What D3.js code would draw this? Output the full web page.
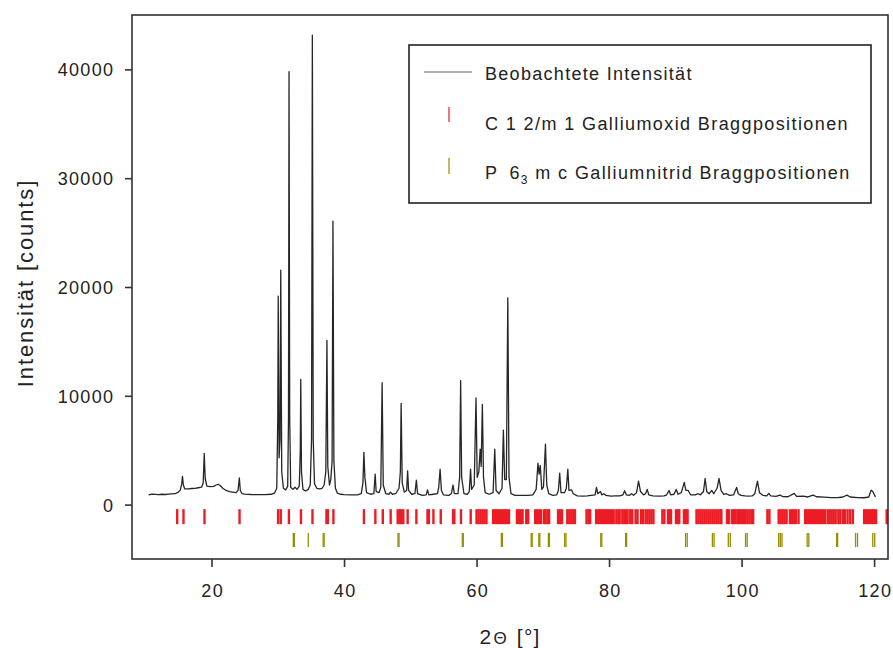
<!DOCTYPE html>
<html>
<head>
<meta charset="utf-8">
<script src="https://cdn.jsdelivr.net/npm/d3@7"></script>
<style>
  body { margin: 0; background: #fff; }
  svg text { font-family: "Liberation Sans", Arial, Helvetica, sans-serif; fill: #222; }
</style>
</head>
<body>
<svg id="chart" width="893" height="648"></svg>
<script>
// Observed powder pattern: [2θ in degrees, intensity in counts]
const observed = [
  [10.5, 900], [11.0, 960], [11.5, 940], [12.0, 920], [12.5, 950], [13.0, 930], [13.5, 960],
  [14.0, 980], [14.5, 1000], [15.0, 1150], [15.3, 1350], [15.5, 1900], [15.62, 2600], [15.75, 1800],
  [15.95, 1450], [16.5, 1450], [17.0, 1480], [17.5, 1500], [18.0, 1550], [18.5, 1600], [18.75, 2000],
  [18.9, 4700], [19.05, 2400], [19.3, 1700], [19.8, 1650], [20.3, 1680], [20.7, 1800], [21.0, 1870],
  [21.3, 1750], [21.7, 1500], [22.2, 1300], [22.7, 1200], [23.2, 1150], [23.7, 1100], [24.0, 1300],
  [24.2, 2450], [24.35, 1300], [24.6, 1000], [25.0, 960], [26.0, 930], [27.0, 920], [28.0, 920],
  [29.0, 950], [29.5, 1050], [29.85, 1500], [30.0, 8000], [30.07, 19150], [30.2, 4300], [30.35, 6000],
  [30.45, 21550], [30.6, 3000], [30.85, 1500], [31.2, 1350], [31.5, 1700], [31.62, 8000], [31.7, 39800],
  [31.8, 8000], [31.95, 1600], [32.3, 1400], [32.6, 1600], [32.9, 1400], [33.25, 1700], [33.4, 5000],
  [33.47, 11500], [33.58, 3000], [33.8, 1400], [34.2, 1250], [34.6, 1400], [34.9, 1800], [35.1, 6000],
  [35.22, 43150], [35.35, 6000], [35.55, 1900], [35.9, 1500], [36.3, 1450], [36.7, 1500], [37.0, 1800],
  [37.25, 3000], [37.42, 15100], [37.55, 3500], [37.8, 1800], [38.0, 2300], [38.2, 4000], [38.33, 26050],
  [38.47, 4000], [38.7, 1500], [39.0, 1050], [39.5, 950], [40.0, 920], [41.0, 900], [42.0, 900],
  [42.6, 1000], [42.85, 2000], [43.0, 4800], [43.15, 2500], [43.4, 1100], [44.0, 950], [44.5, 1000],
  [44.7, 2800], [44.85, 1200], [45.3, 1100], [45.55, 1600], [45.75, 11200], [45.92, 1800], [46.3, 1000],
  [46.8, 950], [47.0, 1150], [47.3, 950], [47.8, 1000], [48.3, 1500], [48.5, 3000], [48.62, 9300],
  [48.78, 2000], [49.1, 1150], [49.45, 1300], [49.6, 3100], [49.75, 1300], [50.2, 950], [50.7, 1000],
  [50.92, 2250], [51.1, 1000], [51.8, 850], [52.4, 900], [52.6, 1350], [52.8, 900], [53.5, 950],
  [54.1, 1000], [54.3, 1600], [54.5, 3250], [54.7, 1300], [55.0, 900], [55.8, 850], [56.2, 1000],
  [56.45, 1800], [56.65, 1000], [57.2, 1000], [57.45, 2500], [57.6, 11400], [57.75, 2500], [58.1, 1000],
  [58.6, 950], [58.9, 1200], [59.1, 3250], [59.25, 1400], [59.65, 1800], [59.92, 9800], [60.1, 2500],
  [60.35, 3000], [60.55, 5100], [60.7, 3500], [60.88, 9200], [61.05, 2500], [61.3, 1100], [61.9, 950],
  [62.5, 1100], [62.75, 5100], [62.95, 1300], [63.4, 1000], [63.85, 1500], [64.05, 6850], [64.25, 2300],
  [64.5, 2300], [64.72, 19000], [64.9, 2500], [65.2, 1000], [65.8, 850], [66.5, 850], [67.2, 850],
  [67.8, 850], [68.5, 900], [69.0, 1400], [69.27, 3800], [69.45, 2800], [69.62, 3600], [69.85, 1400],
  [70.1, 1600], [70.4, 5550], [70.6, 1800], [70.9, 1000], [71.5, 850], [72.1, 900], [72.35, 1300],
  [72.55, 2900], [72.75, 1100], [73.3, 1100], [73.55, 1500], [73.78, 3250], [73.95, 1300], [74.35, 1350],
  [74.6, 1000], [75.2, 800], [76.0, 780], [76.7, 800], [77.3, 850], [77.9, 900], [78.1, 1580],
  [78.3, 1000], [78.7, 1200], [78.9, 900], [79.2, 1000], [79.5, 850], [80.3, 780], [81.0, 800],
  [81.6, 800], [82.1, 900], [82.35, 1270], [82.6, 900], [83.1, 850], [83.4, 1000], [83.7, 850],
  [84.15, 1100], [84.45, 2160], [84.75, 1200], [85.2, 900], [85.5, 1000], [85.75, 1400], [86.0, 900],
  [86.6, 800], [87.5, 780], [88.3, 800], [88.7, 900], [89.05, 1300], [89.3, 900], [89.8, 950],
  [90.15, 1400], [90.4, 950], [90.9, 1100], [91.35, 2040], [91.6, 1300], [91.95, 1300], [92.3, 900],
  [93.0, 900], [93.45, 1000], [93.8, 900], [94.25, 1200], [94.5, 2400], [94.75, 1200], [95.1, 1000],
  [95.5, 1300], [95.8, 1000], [96.3, 1500], [96.6, 2400], [96.9, 1300], [97.3, 950], [97.7, 1000],
  [98.2, 850], [98.8, 900], [99.25, 1580], [99.5, 1000], [99.9, 850], [100.5, 800], [101.0, 780],
  [101.6, 800], [102.0, 1000], [102.4, 2160], [102.7, 1100], [103.2, 850], [103.8, 800], [104.1, 1030],
  [104.4, 800], [105.2, 750], [105.8, 870], [106.2, 740], [107.0, 720], [107.95, 1030], [108.3, 750],
  [109.3, 770], [110.0, 700], [110.8, 870], [111.3, 720], [112.5, 680], [113.5, 650], [114.5, 640],
  [115.3, 700], [115.9, 870], [116.4, 700], [117.5, 640], [118.5, 630], [119.2, 700], [119.55, 1330],
  [119.8, 1200], [120.2, 690]
];

// Bragg reflection positions (2θ, degrees), monoclinic gallium oxide (C 1 2/m 1)
const oxideBragg = [
  14.82, 15.77, 18.94, 24.23, 30.05, 30.45, 31.68, 33.5, 35.24, 37.35, 37.55, 38.4,
  43.0, 44.73, 45.85, 47.04, 48.1, 48.4, 48.65, 48.95, 49.6, 50.92, 52.6, 52.8, 53.49, 54.6,
  56.45, 56.65, 57.65, 59.12,
  60.0, 60.3, 60.6, 60.9, 61.2, 61.5,
  62.5, 62.8, 63.1, 63.4, 63.7, 64.0, 64.3, 64.6, 64.9,
  66.1, 66.4, 66.7, 66.95, 67.5, 67.8,
  68.85, 69.15, 69.45, 69.7, 70.15, 70.4, 70.7, 70.95,
  72.3, 72.6, 72.9, 73.7, 74.0, 74.3, 74.6, 74.85, 76.6, 76.9, 77.15,
  78.05, 78.35, 78.65, 78.95, 79.25, 79.55, 79.85, 80.15, 80.45, 80.7, 81.1, 81.4, 81.6,
  82.0, 82.3, 82.55, 82.8, 83.2, 83.5, 84.0, 84.3, 84.85, 85.1, 85.5, 85.8, 86.1, 86.4, 86.7,
  88.05, 88.35, 88.9, 89.2, 89.35, 90.1, 90.4, 90.6, 91.3, 91.6, 91.85,
  93.2, 93.5, 93.8, 94.1, 94.4, 94.7, 95.0, 95.3, 95.6, 95.9, 96.2, 96.5, 96.8, 96.95,
  97.8, 98.1, 98.55, 98.85, 99.1, 99.4, 99.6, 99.85, 100.1, 100.35, 100.6, 100.9, 101.2, 101.5, 101.75,
  103.9, 104.2, 105.6, 105.9, 106.2, 106.5, 106.8, 107.3, 107.6, 107.9, 108.2, 108.6,
  109.6, 109.9, 110.2, 110.5, 110.8, 111.1, 111.4, 111.7, 112.0, 112.3, 112.6, 113.0, 113.3,
  113.6, 113.9, 114.2, 114.6, 114.9, 115.3, 115.6, 116.0, 116.4, 116.8,
  118.5, 118.8, 119.1, 119.4, 119.7, 120.0, 120.3, 121.9
];

// Bragg reflection positions (2θ, degrees), hexagonal gallium nitride (P 6₃ m c)
const nitrideBragg = [
  32.35, 32.5, 34.6, 36.85, 37.0, 48.15, 48.3, 57.85, 58.0, 63.75, 63.9, 68.25, 68.4,
  69.4, 69.55, 70.85, 71.0, 73.3, 73.5, 78.75, 78.9, 82.5, 82.65,
  91.55, 91.8, 95.6, 95.85, 98.0, 98.3, 100.6, 100.85, 105.6, 105.85, 106.1,
  109.9, 110.15, 114.35, 114.5, 117.2, 117.5, 119.8, 120.1
];

const xTicks = [20, 40, 60, 80, 100, 120];
const yTicks = [0, 10000, 20000, 30000, 40000];

const xTitle = ["2", "Θ", " [°]"];
const yTitle = "Intensität [counts]";
const legendObserved = "Beobachtete Intensität";
const legendOxide = "C 1 2/m 1 Galliumoxid Braggpositionen";
const legendNitride = ["P", "6", "3", " m c Galliumnitrid Braggpositionen"];

// ---- layout ----
const svg = d3.select("#chart");
const plot = { left: 132, right: 888, top: 15, bottom: 559 };

const x = d3.scaleLinear().domain([8, 122.1]).range([plot.left, plot.right]);
const y = d3.scaleLinear().domain([-5000, 45000]).range([plot.bottom, plot.top]);

const lineColor = "#262626";
const red = "#ec1c24";
const olive = "#9a8b00";

// Bragg tick rows below the pattern (in count units)
const oxideRow = [-420, -1800];
const nitrideRow = [-2600, -3900];

// observed curve
const line = d3.line().x(d => x(d[0])).y(d => y(d[1]));
svg.append("path")
  .datum(observed)
  .attr("d", line)
  .attr("fill", "none")
  .attr("stroke", lineColor)
  .attr("stroke-width", 1.3)
  .attr("stroke-linejoin", "round");

// Bragg ticks
svg.append("g").selectAll("line").data(oxideBragg).join("line")
  .attr("x1", d => x(d)).attr("x2", d => x(d))
  .attr("y1", y(oxideRow[0])).attr("y2", y(oxideRow[1]))
  .attr("stroke", red).attr("stroke-width", 2.4);

svg.append("g").selectAll("line").data(nitrideBragg).join("line")
  .attr("x1", d => x(d)).attr("x2", d => x(d))
  .attr("y1", y(nitrideRow[0])).attr("y2", y(nitrideRow[1]))
  .attr("stroke", olive).attr("stroke-width", 1.3);

// frame
svg.append("rect")
  .attr("x", plot.left).attr("y", plot.top)
  .attr("width", plot.right - plot.left).attr("height", plot.bottom - plot.top)
  .attr("fill", "none").attr("stroke", "#333").attr("stroke-width", 1.6);

// x axis
const xAxis = svg.append("g")
  .attr("transform", `translate(0,${plot.bottom})`)
  .call(d3.axisBottom(x).tickValues(xTicks).tickSize(8).tickFormat(d3.format("d")));
xAxis.select(".domain").remove();
xAxis.attr("font-family", null);
xAxis.selectAll(".tick line").attr("stroke", "#333").attr("stroke-width", 1.6);
xAxis.selectAll(".tick text")
  .attr("y", 38).attr("dy", null)
  .attr("font-size", 18).attr("letter-spacing", 1.3).attr("dx", 0.65)
  .attr("fill", "#222");

// y axis
const yAxis = svg.append("g")
  .attr("transform", `translate(${plot.left},0)`)
  .call(d3.axisLeft(y).tickValues(yTicks).tickSize(7).tickFormat(d3.format("d")));
yAxis.select(".domain").remove();
yAxis.attr("font-family", null);
yAxis.selectAll(".tick line").attr("stroke", "#333").attr("stroke-width", 1.6);
yAxis.selectAll(".tick text")
  .attr("x", -19).attr("dy", "0.36em")
  .attr("font-size", 18).attr("letter-spacing", 1.3).attr("dx", 1.3)
  .attr("fill", "#222");

// axis titles
const xt = svg.append("text")
  .attr("x", (plot.left + plot.right) / 2).attr("y", 644)
  .attr("text-anchor", "middle").attr("font-size", 21).attr("letter-spacing", 1.2);
xt.append("tspan").text(xTitle[0]);
xt.append("tspan").attr("font-size", 17).attr("dx", 1).text(xTitle[1]);
xt.append("tspan").attr("dx", 2).attr("style", "white-space:pre").text(xTitle[2]);

svg.append("text")
  .attr("transform", "translate(33,283) rotate(-90)")
  .attr("text-anchor", "middle")
  .attr("font-size", 22).attr("letter-spacing", 1.9)
  .text(yTitle);

// legend
const lg = svg.append("g");
lg.append("rect")
  .attr("x", 409).attr("y", 45).attr("width", 462).attr("height", 158)
  .attr("fill", "#fff").attr("stroke", "#222").attr("stroke-width", 1.6);

lg.append("line")
  .attr("x1", 424).attr("x2", 472).attr("y1", 72).attr("y2", 72)
  .attr("stroke", "#666").attr("stroke-width", 1.2);
lg.append("text").attr("x", 485).attr("y", 79.5)
  .attr("font-size", 18).attr("letter-spacing", 1.3).text(legendObserved);

lg.append("line")
  .attr("x1", 449).attr("x2", 449).attr("y1", 107).attr("y2", 122)
  .attr("stroke", red).attr("stroke-width", 1.2);
lg.append("text").attr("x", 485).attr("y", 130)
  .attr("font-size", 18).attr("letter-spacing", 1.4).text(legendOxide);

lg.append("line")
  .attr("x1", 449).attr("x2", 449).attr("y1", 158).attr("y2", 174)
  .attr("stroke", olive).attr("stroke-width", 1.2);
const nt = lg.append("text").attr("x", 485).attr("y", 178.5)
  .attr("font-size", 18).attr("letter-spacing", 1.4);
nt.append("tspan").text(legendNitride[0]);
nt.append("tspan").attr("dx", 11).text(legendNitride[1]);
nt.append("tspan").attr("font-size", 12).attr("dy", 5).text(legendNitride[2]);
nt.append("tspan").attr("dy", -5).attr("style", "white-space:pre").text(legendNitride[3]);
</script>
</body>
</html>
